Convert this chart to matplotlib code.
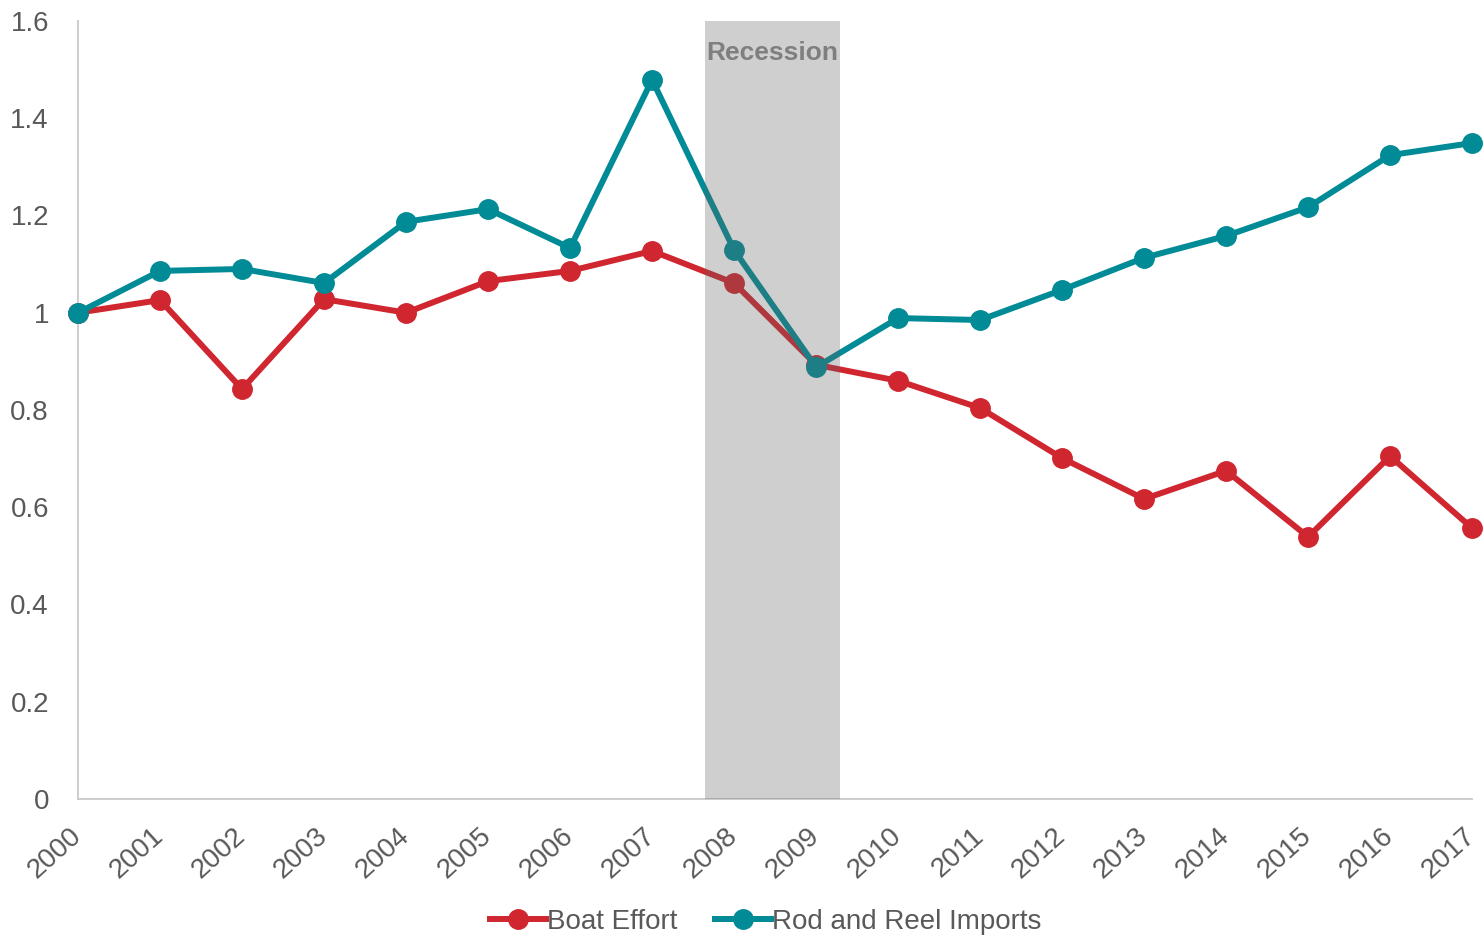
import matplotlib
matplotlib.use("Agg")
import matplotlib.pyplot as plt
from matplotlib.ticker import FixedLocator, FuncFormatter

plt.rcParams['font.family'] = ['Liberation Sans', 'DejaVu Sans']

# data
years = list(range(2000, 2018))
boat_effort = [1.0, 1.026, 0.843, 1.028, 1.0, 1.065, 1.086, 1.127, 1.061, 0.893,
               0.860, 0.804, 0.701, 0.617, 0.675, 0.539, 0.705, 0.557]
rod_reel_imports = [1.0, 1.086, 1.090, 1.061, 1.187, 1.213, 1.133, 1.479, 1.129, 0.888,
                    0.989, 0.985, 1.047, 1.113, 1.158, 1.217, 1.324, 1.349]
recession = (2007.65, 2009.29)

RED = '#D0262F'
TEAL = '#008B96'
GREY_TXT = '#595959'

fig = plt.figure(figsize=(14.84, 9.40), dpi=100)
ax = fig.add_axes([0.0526, 0.150, 0.9394, 0.8277])

ax.plot(years, boat_effort, color=RED, lw=4.3, marker='o', ms=14,
        clip_on=False, zorder=3, label='Boat Effort')
ax.plot(years, rod_reel_imports, color=TEAL, lw=4.3, marker='o', ms=14,
        clip_on=False, zorder=4, label='Rod and Reel Imports')

# grey band sits over the lines, semi-transparent
ax.axvspan(recession[0], recession[1], color='#626262', alpha=0.3, lw=0, zorder=5)
ax.text(sum(recession) / 2, 1.535, 'Recession', ha='center', va='center',
        fontsize=19, fontweight='bold', color='#7f7f7f', zorder=6)

ax.set_xlim(2000, 2017)
ax.set_ylim(0, 1.6)
ax.set_xticks(years)
ax.set_xticklabels([str(y) for y in years], rotation=42, ha='right', va='center',
                   rotation_mode='anchor', fontsize=20, color=GREY_TXT)
ax.yaxis.set_major_locator(FixedLocator([0, 0.2, 0.4, 0.6, 0.8, 1.0, 1.2, 1.4, 1.6]))
ax.yaxis.set_major_formatter(FuncFormatter(lambda v, p: f'{v:g}'))
ax.tick_params(axis='y', labelsize=20, labelcolor=GREY_TXT, length=0, pad=21)
ax.tick_params(axis='x', length=0, pad=24)

for s in ['top', 'right']:
    ax.spines[s].set_visible(False)
for s in ['left', 'bottom']:
    ax.spines[s].set_color('#c8c8c8')
    ax.spines[s].set_linewidth(1.3)

leg = fig.legend(loc='center', bbox_to_anchor=(0.516, 0.019), ncol=2, frameon=False,
                 fontsize=20, handlelength=2.0, handletextpad=0.05, columnspacing=1.35,
                 borderaxespad=0)
for t in leg.get_texts():
    t.set_color(GREY_TXT)

fig.savefig('out.png', dpi=100)
